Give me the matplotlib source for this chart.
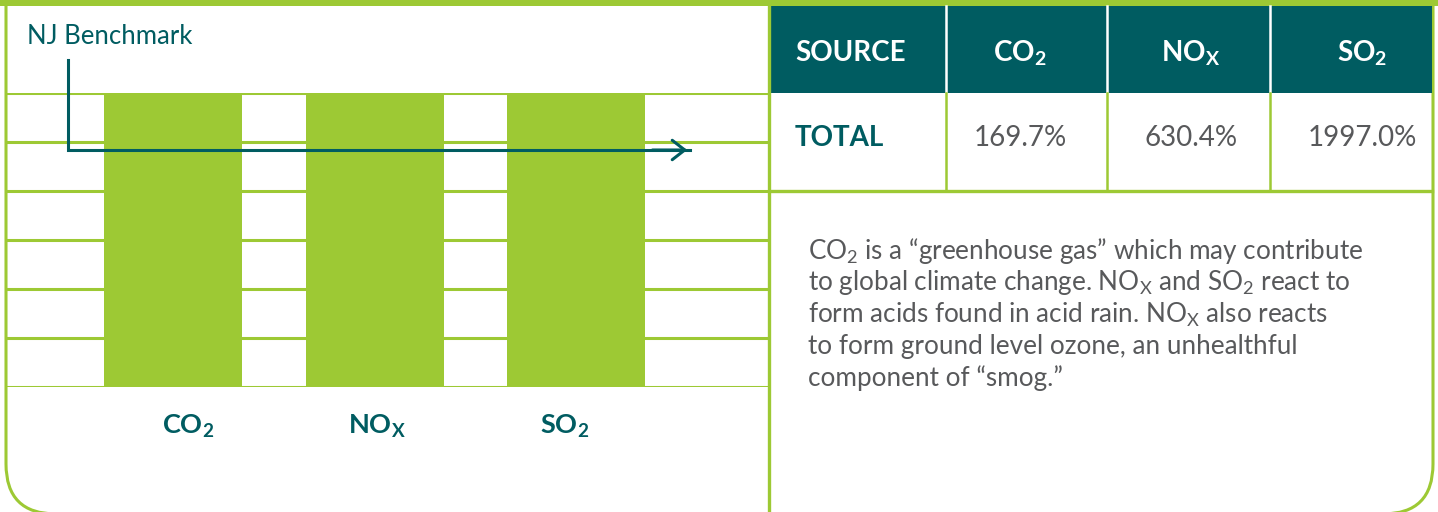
#!/usr/bin/env python3

import matplotlib
matplotlib.use("Agg")
import matplotlib.pyplot as plt
from matplotlib.patches import Rectangle, FancyBboxPatch
import numpy as np

plt.rcParams['font.family'] = ['Lato', 'DejaVu Sans']
plt.rcParams['mathtext.fontset'] = 'custom'
plt.rcParams['mathtext.rm'] = 'Lato'
plt.rcParams['mathtext.it'] = 'Lato'
plt.rcParams['mathtext.bf'] = 'Lato:bold'

GREEN = "#9dc934"
TEAL = "#005c61"
GRAY = "#58595b"

# data
pollutants = [r"CO$_\mathbf{2}$", r"NO$_\mathbf{X}$", r"SO$_\mathbf{2}$"]
header_labels = [r"CO$_\mathbf{2}$", r"NO$_\mathbf{X}$", r"SO$_\mathbf{2}$"]
pct_of_benchmark = [169.7, 630.4, 1997.0]
benchmark = 100.0
row_label = "TOTAL"
first_col = "SOURCE"
note_lines = [
    "CO$_2$ is a \u201cgreenhouse gas\u201d which may contribute",
    "to global climate change. NO$_\\mathrm{X}$ and SO$_2$ react to",
    "form acids found in acid rain. NO$_\\mathrm{X}$ also reacts",
    "to form ground level ozone, an unhealthful",
    "component of \u201csmog.\u201d",
]

W, H = 1438, 512
fig = plt.figure(figsize=(W / 100, H / 100), dpi=100)

# background / frame axes in pixel units
bg = fig.add_axes([0, 0, 1, 1])
bg.set_xlim(0, W)
bg.set_ylim(H, 0)
bg.axis("off")

# only the bottom corners are rounded, so let the box run off the top
frame = FancyBboxPatch((6, -100), 1427, 614, boxstyle="round,pad=0,rounding_size=50",
                       fc="white", ec=GREEN, lw=2.2, zorder=1)
bg.add_patch(frame)
bg.add_patch(Rectangle((0, 0), W, 6, fc=GREEN, ec="none", zorder=3))
bg.plot([769, 769], [0, H], color=GREEN, lw=2.4, zorder=3)

# table
col_edges = [770, 946, 1107, 1270, 1432]
col_centers = [1020, 1191, 1362]
bg.add_patch(Rectangle((770, 6), 662, 87, fc=TEAL, ec="none", zorder=2))
for x in col_edges[1:-1]:
    bg.plot([x, x], [6, 93], color="white", lw=1.8, zorder=3)
    bg.plot([x, x], [93, 191], color=GREEN, lw=1.8, zorder=3)
bg.plot([770, 1432], [191, 191], color=GREEN, lw=2.4, zorder=3)

bg.text(795, 53, first_col, color="white", fontsize=20, fontweight="bold",
        va="center", ha="left", zorder=4)
for cx, lab in zip(col_centers, header_labels):
    bg.text(cx, 53, lab, color="white", fontsize=20, fontweight="bold",
            va="center", ha="center", zorder=4)
bg.text(795, 138, row_label, color=TEAL, fontsize=20, fontweight="bold",
        va="center", ha="left", zorder=4)
for cx, v in zip(col_centers, pct_of_benchmark):
    bg.text(cx, 138, f"{v:.1f}%", color=GRAY, fontsize=20,
            va="center", ha="center", zorder=4)

for i, line in enumerate(note_lines):
    bg.text(808, 251 + i * 31.8, line, color=GRAY, fontsize=18.8,
            va="center", ha="left", zorder=4)

bg.text(27, 37, "NJ Benchmark", color=TEAL, fontsize=18.5, va="center", ha="left", zorder=4)

# bar chart
x0_px, x1_px, ytop_px, ybase_px = 6, 769, 93, 387
ax = fig.add_axes([x0_px / W, 1 - ybase_px / H, (x1_px - x0_px) / W, (ybase_px - ytop_px) / H])
ax.patch.set_alpha(0)
step = 201.5
first = 173
ax.set_xlim(-(first - x0_px) / step, 2 + (x1_px - (first + 2 * step)) / step)
px_per_unit = (ybase_px - 150) / benchmark
ymax = (ybase_px - ytop_px) / px_per_unit
ax.set_ylim(0, ymax)

xs = np.arange(len(pollutants))
ax.bar(xs, pct_of_benchmark, width=138 / step, color=GREEN, zorder=3)
ax.set_yticks(np.linspace(0, ymax, 7))
ax.yaxis.grid(True, color=GREEN, lw=2.2, zorder=0)
ax.set_axisbelow(True)
for s in ax.spines.values():
    s.set_visible(False)
ax.tick_params(axis="y", left=False, labelleft=False)
ax.tick_params(axis="x", bottom=False, pad=15)
# labels sit a bit closer together than the bars
label_pos = 1 + (xs - 1) * 188.5 / step + 0.01
ax.set_xticks(label_pos, pollutants, color=TEAL, fontsize=19.5, fontweight="bold")

# benchmark arrow
bx = (68 - first) / step
ex = (690 - first) / step
top_y = (ybase_px - 60) / px_per_unit
ax.plot([bx, bx, ex], [top_y, benchmark, benchmark], color=TEAL, lw=2.2,
        clip_on=False, zorder=5, solid_joinstyle="miter")
ax.annotate("", xy=(ex, benchmark), xytext=(ex - 0.2, benchmark),
            arrowprops=dict(arrowstyle="->,head_length=0.9,head_width=0.7",
                            color=TEAL, lw=2.2), zorder=6, annotation_clip=False)

fig.savefig("out.png", dpi=100)
